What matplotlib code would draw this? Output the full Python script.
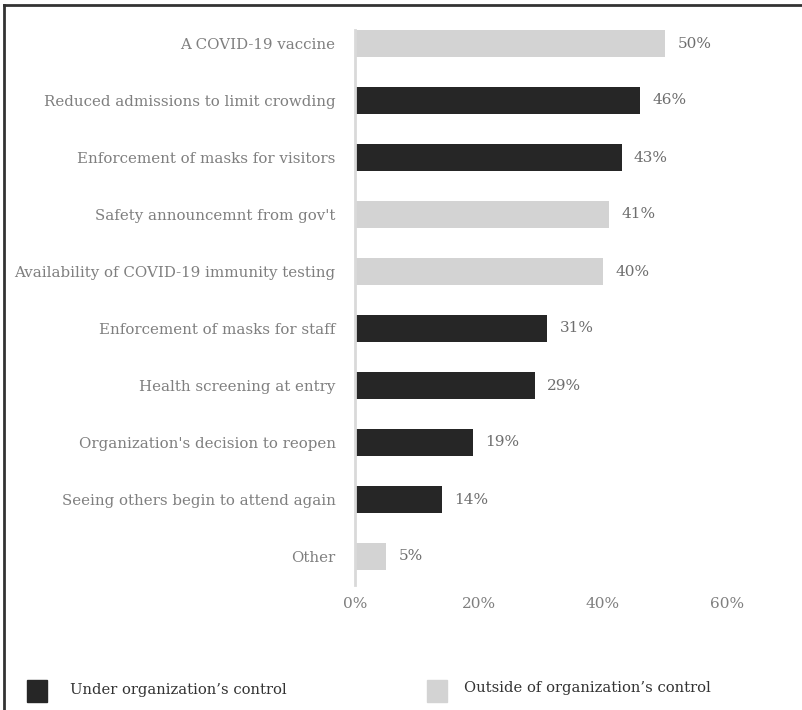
import matplotlib.pyplot as plt
from matplotlib.lines import Line2D
from matplotlib.patches import Rectangle

categories = [
    "A COVID-19 vaccine",
    "Reduced admissions to limit crowding",
    "Enforcement of masks for visitors",
    "Safety announcemnt from gov't",
    "Availability of COVID-19 immunity testing",
    "Enforcement of masks for staff",
    "Health screening at entry",
    "Organization's decision to reopen",
    "Seeing others begin to attend again",
    "Other",
]
values = [50, 46, 43, 41, 40, 31, 29, 19, 14, 5]
# True = under organization's control
controlled = [False, True, True, False, False, True, True, True, True, False]

dark = "#262626"
light = "#d3d3d3"
label_gray = "#7f7f7f"

plt.rcParams["font.family"] = ["DejaVu Serif"]

fig = plt.figure(figsize=(8.03, 7.10), dpi=100)
ax = fig.add_axes([355 / 803, 1 - 585 / 710, 372 / 803, 570 / 710])

colors = [dark if c else light for c in controlled]
y = list(range(len(categories)))
ax.barh(y, values, height=0.48, color=colors)

for yi, v in zip(y, values):
    ax.text(v + 2.0, yi, f"{v}%", va="center", ha="left",
            fontsize=11, color="#6e6e6e")

ax.set_ylim(len(categories) - 0.5, -0.5)
ax.set_xlim(0, 60)
ax.set_yticks(y)
ax.set_yticklabels(categories, fontsize=10.8, color=label_gray)
ax.set_xticks([0, 20, 40, 60])
ax.set_xticklabels(["0%", "20%", "40%", "60%"], fontsize=11, color=label_gray)
ax.tick_params(axis="both", length=0)
ax.tick_params(axis="y", pad=14)
ax.tick_params(axis="x", pad=9)

for s in ["top", "right", "bottom"]:
    ax.spines[s].set_visible(False)
ax.spines["left"].set_color("#d9d9d9")
ax.spines["left"].set_linewidth(2)
ax.spines["left"].set_bounds(-0.24, 9.5)

# legend
W, H = 803, 710
def px(x, yy):
    return x / W, 1 - yy / H

fig.patches.append(Rectangle(px(27, 702), 20 / W, 22 / H, color=dark,
                             transform=fig.transFigure))
fig.text(*px(70, 690), "Under organization\u2019s control", va="center",
         fontsize=10.6, color="#333333")
fig.patches.append(Rectangle(px(427, 702), 20 / W, 22 / H, color=light,
                             transform=fig.transFigure))
fig.text(*px(464, 688), "Outside of organization\u2019s control", va="center",
         fontsize=10.6, color="#333333")

# frame
fig.lines.append(Line2D([4 / W, 1], [1 - 5 / H, 1 - 5 / H], color="#333333",
                        lw=2, transform=fig.transFigure))
fig.lines.append(Line2D([4 / W, 4 / W], [0, 1 - 5 / H], color="#333333",
                        lw=2, transform=fig.transFigure))

fig.savefig("out.png", dpi=100)
